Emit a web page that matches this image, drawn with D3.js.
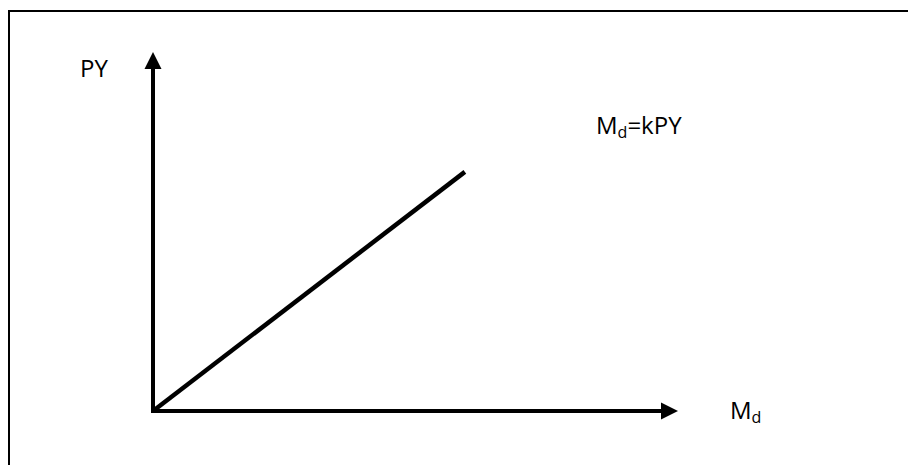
<!DOCTYPE html>
<html>
<head>
<meta charset="utf-8">
<script src="https://cdn.jsdelivr.net/npm/d3@7"></script>
<style>
  html, body { margin: 0; padding: 0; background: #fff; }
  svg { display: block; }
  text { font-family: "Open Sans", sans-serif; fill: #000; }
</style>
</head>
<body>
<svg id="chart" width="908" height="465"></svg>
<script>
// Data (axis-fraction units)
const axisExtent = [0, 1];
const curveMd = [0, 0.594];
const curvePY = [0, 0.666];
const yAxisLabel = "PY";
const xAxisLabel = ["M", "d"];
const curveLabel = ["M", "d", "=kPY"];

const svg = d3.select("#chart");
const W = 908, H = 465;

const x = d3.scaleLinear().domain(axisExtent).range([153, 678]);
const y = d3.scaleLinear().domain(axisExtent).range([411, 52]);

// Frame (top and left edges only are visible)
svg.append("path")
  .attr("d", `M9,465 L9,11 L${W},11`)
  .attr("fill", "none")
  .attr("stroke", "#000")
  .attr("stroke-width", 2);

// Axes
const ah = 17, aw = 8.5;
svg.append("line")
  .attr("x1", x(0)).attr("y1", y(0) + 2)
  .attr("x2", x(0)).attr("y2", y(1) + ah - 1)
  .attr("stroke", "#000").attr("stroke-width", 4);
svg.append("path")
  .attr("d", `M${x(0)},${y(1)} L${x(0) - aw},${y(1) + ah} L${x(0) + aw},${y(1) + ah} Z`)
  .attr("fill", "#000");

svg.append("line")
  .attr("x1", x(0) - 2).attr("y1", y(0))
  .attr("x2", x(1) - ah + 1).attr("y2", y(0))
  .attr("stroke", "#000").attr("stroke-width", 4);
svg.append("path")
  .attr("d", `M${x(1)},${y(0)} L${x(1) - ah},${y(0) - aw} L${x(1) - ah},${y(0) + aw} Z`)
  .attr("fill", "#000");

// Money demand line
const pts = curveMd.map((m, i) => [x(m), y(curvePY[i])]);
svg.append("path")
  .attr("d", d3.line()(pts))
  .attr("fill", "none")
  .attr("stroke", "#000")
  .attr("stroke-width", 4.5);

// Labels
svg.append("text")
  .attr("x", 80).attr("y", 77)
  .attr("font-size", 24)
  .text(yAxisLabel);

const t1 = svg.append("text").attr("x", 596).attr("y", 134).attr("font-size", 24);
t1.append("tspan").text(curveLabel[0]);
t1.append("tspan").attr("font-size", 16).attr("dy", 4).text(curveLabel[1]);
t1.append("tspan").attr("dy", -4).text(curveLabel[2]);

const t2 = svg.append("text").attr("x", 730).attr("y", 419).attr("font-size", 24);
t2.append("tspan").text(xAxisLabel[0]);
t2.append("tspan").attr("font-size", 16).attr("dy", 4).text(xAxisLabel[1]);
</script>
</body>
</html>
